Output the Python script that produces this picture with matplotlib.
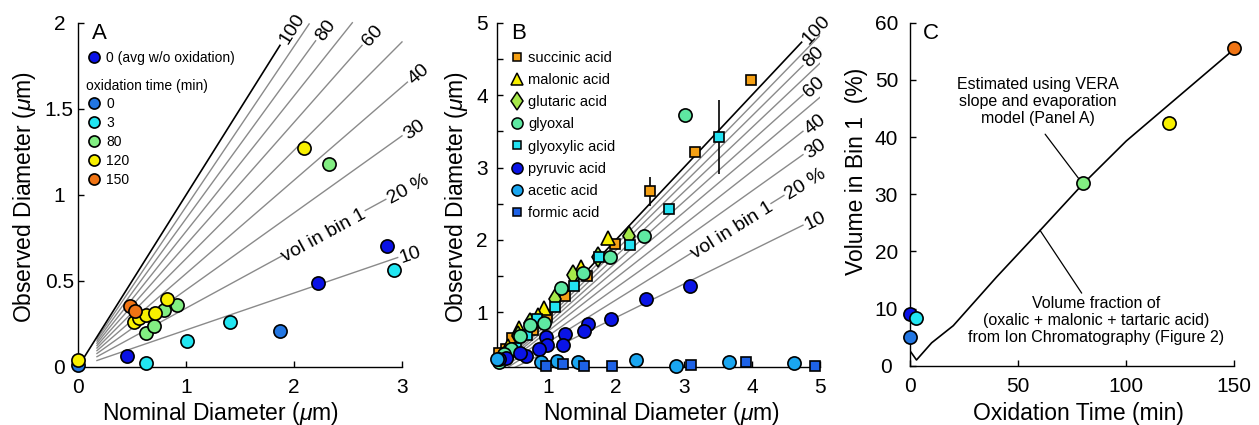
import numpy as np
import matplotlib
matplotlib.use("Agg")
import matplotlib.pyplot as plt
from matplotlib.lines import Line2D
from matplotlib.ticker import FuncFormatter

plt.rcParams['font.family'] = ['Liberation Sans', 'DejaVu Sans']
plt.rcParams['mathtext.fontset'] = 'custom'
plt.rcParams['mathtext.it'] = 'Liberation Sans:italic'
plt.rcParams['mathtext.rm'] = 'Liberation Sans'

# ---------------- Panel A data ----------------
a_avg_x = [0.45, 2.22, 2.86]
a_avg_y = [0.062, 0.488, 0.705]
a_t0_x = [0.0, 1.87]
a_t0_y = [0.01, 0.207]
a_t3_x = [0.63, 1.01, 1.41, 2.93]
a_t3_y = [0.023, 0.153, 0.26, 0.562]
a_t80_x = [0.63, 0.70, 0.80, 0.92, 2.32]
a_t80_y = [0.20, 0.24, 0.329, 0.358, 1.178]
a_t120_x = [0.0, 0.515, 0.56, 0.633, 0.716, 0.824, 2.09]
a_t120_y = [0.039, 0.264, 0.284, 0.303, 0.312, 0.396, 1.271]
a_t150_x = [0.478, 0.528]
a_t150_y = [0.352, 0.328]

vol_pct = [10, 20, 30, 40, 50, 60, 70, 80, 90, 100]
a_slopes = [0.215, 0.342, 0.448, 0.543, 0.63, 0.711, 0.788, 0.862, 0.932, 1.0]
a_line_end = [2.96, 1.89, 3.0, 3.05, 3.0, 2.63, 2.54, 2.2, 2.14, 1.87]
labeled_pct = [10, 30, 40, 60, 80, 100]

# ---------------- Panel B data ----------------
b_succ_x = [3.98, 3.16, 2.50, 1.99, 1.58, 1.25, 0.99, 0.78, 0.48, 0.39, 0.29]
b_succ_y = [4.21, 3.21, 2.67, 1.95, 1.50, 1.22, 0.94, 0.76, 0.65, 0.49, 0.44]
b_succ_err = [0.0, 0.07, 0.2, 0.0, 0.0, 0.0, 0.0, 0.0, 0.0, 0.0, 0.0]
b_malo_x = [1.88, 1.49, 0.94, 0.85, 0.58, 0.41]
b_malo_y = [2.03, 1.63, 1.06, 0.97, 0.78, 0.53]
b_glut_x = [2.19, 1.74, 1.37, 1.10, 0.745, 0.57, 0.44]
b_glut_y = [2.05, 1.76, 1.51, 1.19, 0.85, 0.67, 0.44]
b_glyoxal_x = [3.02, 2.41, 1.91, 1.52, 1.20, 0.95, 0.745, 0.59, 0.46, 0.36, 0.28]
b_glyoxal_y = [3.72, 2.06, 1.76, 1.55, 1.34, 0.85, 0.83, 0.67, 0.49, 0.42, 0.32]
b_glyoxy_x = [3.51, 2.78, 2.21, 1.75, 1.38, 1.10, 0.84, 0.69, 0.54, 0.41]
b_glyoxy_y = [3.42, 2.43, 1.93, 1.76, 1.37, 1.08, 0.91, 0.69, 0.51, 0.42]
b_glyoxy_err = [0.51, 0, 0, 0, 0, 0, 0, 0, 0, 0]
b_pyru_x = [3.09, 2.45, 1.93, 1.59, 1.54, 1.25, 1.22, 0.97, 0.99, 0.87, 0.68, 0.60, 0.39, 0.29]
b_pyru_y = [1.37, 1.18, 0.91, 0.84, 0.74, 0.70, 0.55, 0.66, 0.55, 0.49, 0.40, 0.44, 0.37, 0.35]
b_acet_x = [0.26, 0.90, 1.14, 1.44, 2.30, 2.89, 3.67, 4.62]
b_acet_y = [0.35, 0.31, 0.33, 0.32, 0.34, 0.26, 0.31, 0.30]
b_form_x = [0.97, 1.22, 1.53, 1.95, 3.10, 3.91, 4.93]
b_form_y = [0.26, 0.29, 0.26, 0.26, 0.27, 0.31, 0.26]

b_slopes = [0.464, 0.585, 0.669, 0.737, 0.794, 0.843, 0.888, 0.928, 0.965, 1.0]
b_line_end = [4.75, 3.12, 4.75, 4.75, 5.0, 4.75, 5.0, 4.75, 5.0, 4.73]

# ---------------- Panel C data ----------------
c_time = [0, 0, 3, 80, 120, 150]
c_vol = [9.0, 5.1, 8.4, 31.9, 42.4, 55.5]
c_line_t = [0, 3, 10, 20, 40, 60, 80, 100, 150]
c_line_v = [2.6, 1.0, 4.0, 7.0, 15.5, 23.6, 31.8, 39.3, 55.4]

# colours
col_avg = '#0a12e6'
col_t0 = '#2276e2'
col_t3 = '#22e6f2'
col_t80 = '#82ee82'
col_t120 = '#f8f000'
col_t150 = '#f07414'
c_colors = [col_avg, col_t0, col_t3, col_t80, col_t120, col_t150]

fig = plt.figure(figsize=(12.59, 4.25), dpi=100)
fig.patch.set_facecolor('white')

TICK_FS = 15
LAB_FS = 16.5
LINE_FS = 14


def style_axes(ax, ypad):
    for s in ['top', 'right']:
        ax.spines[s].set_visible(False)
    for s in ['left', 'bottom']:
        ax.spines[s].set_linewidth(1.0)
    ax.tick_params(direction='in', length=4, width=1.0, labelsize=TICK_FS)
    ax.tick_params(axis='x', pad=8)
    ax.tick_params(axis='y', which='both', pad=ypad)
    ax.tick_params(axis='y', which='minor', length=4, width=1.0, direction='in')
    fmt = FuncFormatter(lambda v, p: '%g' % v)
    ax.xaxis.set_major_formatter(fmt)
    ax.yaxis.set_major_formatter(fmt)
    for lab in ax.get_yticklabels():
        lab.set_horizontalalignment('center')


def line_label(ax, x, y, slope, text):
    ax.text(x, y, text, fontsize=LINE_FS, rotation=np.degrees(np.arctan(slope)),
            rotation_mode='anchor', transform_rotates_text=True,
            ha='left', va='center_baseline', clip_on=False)


mk = dict(mec='black', mew=1.2, ls='none', clip_on=False, zorder=5)

# ================= Panel A =================
axA = fig.add_axes([0.062, 0.1365, 0.2573, 0.8094])
axA.set_xlim(0, 3)
axA.set_ylim(0, 2)
axA.set_xticks([0, 1, 2, 3])
axA.set_yticks([0, 0.5, 1, 1.5, 2])
style_axes(axA, 13.5)

for pct, s, xe in zip(vol_pct, a_slopes, a_line_end):
    x0 = 0.03 if pct == 100 else 0.175
    xx = np.array([x0, xe])
    axA.plot(xx, s * xx, color='black' if pct == 100 else '#8a8a8a',
             lw=1.2 if pct == 100 else 1.0, zorder=2, clip_on=False)
    if pct in labeled_pct:
        line_label(axA, xe + 0.02, s * (xe + 0.02), s, str(pct))
# 20 % line: dash and label
s20 = a_slopes[1]
axA.plot([2.66, 2.85], [s20 * 2.66, s20 * 2.85], color='#8a8a8a', lw=1.0, zorder=2)
axA.text(2.27, s20 * 2.27, 'vol in bin 1', fontsize=LINE_FS,
         rotation=np.degrees(np.arctan(s20)), rotation_mode='anchor',
         transform_rotates_text=True, ha='center', va='center_baseline')
line_label(axA, 2.87, s20 * 2.87, s20, '20 %')

ms_a = 9.5
axA.plot(a_t0_x, a_t0_y, 'o', mfc=col_t0, ms=ms_a, **mk)
axA.plot(a_t3_x, a_t3_y, 'o', mfc=col_t3, ms=ms_a, **mk)
axA.plot(a_t80_x, a_t80_y, 'o', mfc=col_t80, ms=ms_a, **mk)
axA.plot(a_t120_x, a_t120_y, 'o', mfc=col_t120, ms=ms_a, **mk)
axA.plot(a_t150_x, a_t150_y, 'o', mfc=col_t150, ms=ms_a, **mk)
axA.plot(a_avg_x, a_avg_y, 'o', mfc=col_avg, ms=ms_a, **mk)

h_avg = [Line2D([], [], marker='o', ls='none', mfc=col_avg, mec='k', mew=1.2, ms=8)]
leg1 = axA.legend(h_avg, ['0 (avg w/o oxidation)'], loc='upper left',
                  bbox_to_anchor=(0.025, 0.918), frameon=False, fontsize=10,
                  handlelength=1.2, handletextpad=0.25, borderpad=0, borderaxespad=0)
axA.add_artist(leg1)
h_ox = [Line2D([], [], marker='o', ls='none', mfc=c, mec='k', mew=1.2, ms=8)
        for c in [col_t0, col_t3, col_t80, col_t120, col_t150]]
leg2 = axA.legend(h_ox, ['0', '3', '80', '120', '150'], loc='upper left',
                  title='oxidation time (min)', title_fontsize=10, alignment='left',
                  bbox_to_anchor=(0.025, 0.838), frameon=False, fontsize=10,
                  handlelength=1.2, handletextpad=0.25, borderpad=0, borderaxespad=0,
                  labelspacing=0.36)
leg2._legend_box.sep = 3

axA.text(0.043, 1.0, 'A', transform=axA.transAxes, fontsize=16, va='top', ha='left')
axA.set_xlabel(r'Nominal Diameter ($\mu$m)', fontsize=LAB_FS)
axA.set_ylabel(r'Observed Diameter ($\mu$m)', fontsize=LAB_FS)
axA.xaxis.set_label_coords(0.438, -0.135)
axA.xaxis.label.set_va('center')
axA.yaxis.set_label_coords(-0.164, 0.495)
axA.yaxis.label.set_va('center')

# ================= Panel B =================
axB = fig.add_axes([0.3945, 0.1372, 0.2568, 0.8094])
axB.set_xlim(0.25, 5)
axB.set_ylim(0.25, 5)
axB.set_xticks([1, 2, 3, 4, 5])
axB.set_yticks([1, 2, 3, 4, 5])
axB.set_yticks([1.5, 2.5, 3.5, 4.5], minor=True)
style_axes(axB, 10.5)

for pct, s, xe in zip(vol_pct, b_slopes, b_line_end):
    xx = np.array([0.0, xe])
    axB.plot(xx, s * xx, color='black' if pct == 100 else '#8a8a8a',
             lw=1.2 if pct == 100 else 1.0, zorder=2)
    if pct in labeled_pct:
        line_label(axB, xe + 0.03, s * (xe + 0.03), s, str(pct))
s20 = b_slopes[1]
axB.plot([4.28, 4.47], [s20 * 4.28, s20 * 4.47], color='#8a8a8a', lw=1.0, zorder=2)
axB.text(3.69, s20 * 3.69, 'vol in bin 1', fontsize=LINE_FS,
         rotation=np.degrees(np.arctan(s20)), rotation_mode='anchor',
         transform_rotates_text=True, ha='center', va='center_baseline')
line_label(axB, 4.49, s20 * 4.49, s20, '20 %')

axB.errorbar(b_succ_x, b_succ_y, yerr=b_succ_err, fmt='none', ecolor='black', elinewidth=1.2, zorder=3)
axB.errorbar(b_glyoxy_x, b_glyoxy_y, yerr=b_glyoxy_err, fmt='none', ecolor='black', elinewidth=1.2, zorder=3)

col_succ = '#f5a014'
col_malo = '#f8f000'
col_glut = '#a6e84a'
col_glyoxal = '#5ee8a2'
col_glyoxy = '#22e2f2'
col_pyru = '#0a14e6'
col_acet = '#1aa6f0'
col_form = '#1e62e6'

axB.plot(b_succ_x, b_succ_y, 's', mfc=col_succ, ms=7, **mk)
axB.plot(b_malo_x, b_malo_y, '^', mfc=col_malo, ms=10, **mk)
axB.plot(b_glut_x, b_glut_y, 'd', mfc=col_glut, ms=10.5, **mk)
axB.plot(b_glyoxy_x, b_glyoxy_y, 's', mfc=col_glyoxy, ms=7, **mk)
axB.plot(b_glyoxal_x, b_glyoxal_y, 'o', mfc=col_glyoxal, ms=9.5, **mk)
axB.plot(b_pyru_x, b_pyru_y, 'o', mfc=col_pyru, ms=9.5, **mk)
axB.plot(b_acet_x, b_acet_y, 'o', mfc=col_acet, ms=9.5, **mk)
axB.plot(b_form_x, b_form_y, 's', mfc=col_form, ms=7, **mk)

hB = [Line2D([], [], marker='s', ls='none', mfc=col_succ, mec='k', mew=1.1, ms=6),
      Line2D([], [], marker='^', ls='none', mfc=col_malo, mec='k', mew=1.1, ms=9),
      Line2D([], [], marker='d', ls='none', mfc=col_glut, mec='k', mew=1.1, ms=9.5),
      Line2D([], [], marker='o', ls='none', mfc=col_glyoxal, mec='k', mew=1.1, ms=8),
      Line2D([], [], marker='s', ls='none', mfc=col_glyoxy, mec='k', mew=1.1, ms=6),
      Line2D([], [], marker='o', ls='none', mfc=col_pyru, mec='k', mew=1.1, ms=8),
      Line2D([], [], marker='o', ls='none', mfc=col_acet, mec='k', mew=1.1, ms=8),
      Line2D([], [], marker='s', ls='none', mfc=col_form, mec='k', mew=1.1, ms=6)]
labB = ['succinic acid', 'malonic acid', 'glutaric acid', 'glyoxal',
        'glyoxylic acid', 'pyruvic acid', 'acetic acid', 'formic acid']
axB.legend(hB, labB, loc='upper left', bbox_to_anchor=(0.035, 0.918), frameon=False,
           fontsize=10.5, handlelength=1.2, handletextpad=0.2, borderpad=0,
           borderaxespad=0, labelspacing=0.56)

axB.text(0.046, 1.0, 'B', transform=axB.transAxes, fontsize=16, va='top', ha='left')
axB.set_xlabel(r'Nominal Diameter ($\mu$m)', fontsize=LAB_FS)
axB.set_ylabel(r'Observed Diameter ($\mu$m)', fontsize=LAB_FS)
axB.xaxis.set_label_coords(0.51, -0.135)
axB.xaxis.label.set_va('center')
axB.yaxis.set_label_coords(-0.124, 0.493)
axB.yaxis.label.set_va('center')

# ================= Panel C =================
axC = fig.add_axes([0.7228, 0.1395, 0.2576, 0.8071])
axC.set_xlim(0, 150)
axC.set_ylim(0, 60)
axC.set_xticks([0, 50, 100, 150])
axC.set_yticks([0, 10, 20, 30, 40, 50, 60])
style_axes(axC, 17)

axC.plot(c_line_t, c_line_v, color='black', lw=1.2, zorder=2)
for t, v, c in zip(c_time, c_vol, c_colors):
    axC.plot([t], [v], 'o', mfc=c, ms=9.5, **mk)

axC.text(59.3, 46.2, 'Estimated using VERA\nslope and evaporation\nmodel (Panel A)',
         fontsize=11.5, ha='center', va='center', linespacing=1.2)
axC.annotate('', xy=(77.9, 32.8), xytext=(62.5, 40.5),
             arrowprops=dict(arrowstyle='-', lw=0.9, color='black', shrinkA=0, shrinkB=0))
axC.text(86.0, 7.9, 'Volume fraction of\n(oxalic + malonic + tartaric acid)\nfrom Ion Chromatography (Figure 2)',
         fontsize=11.5, ha='center', va='center', linespacing=1.2)
axC.annotate('', xy=(60.1, 23.7), xytext=(79.4, 12.7),
             arrowprops=dict(arrowstyle='-', lw=0.9, color='black', shrinkA=0, shrinkB=0))

axC.text(0.041, 1.0, 'C', transform=axC.transAxes, fontsize=16, va='top', ha='left')
axC.set_xlabel('Oxidation Time (min)', fontsize=LAB_FS)
axC.set_ylabel('Volume in Bin 1  (%)', fontsize=LAB_FS)
axC.xaxis.set_label_coords(0.52, -0.138)
axC.xaxis.label.set_va('center')
axC.yaxis.set_label_coords(-0.164, 0.566)
axC.yaxis.label.set_va('center')

fig.savefig('out.png', dpi=100, facecolor='white')
